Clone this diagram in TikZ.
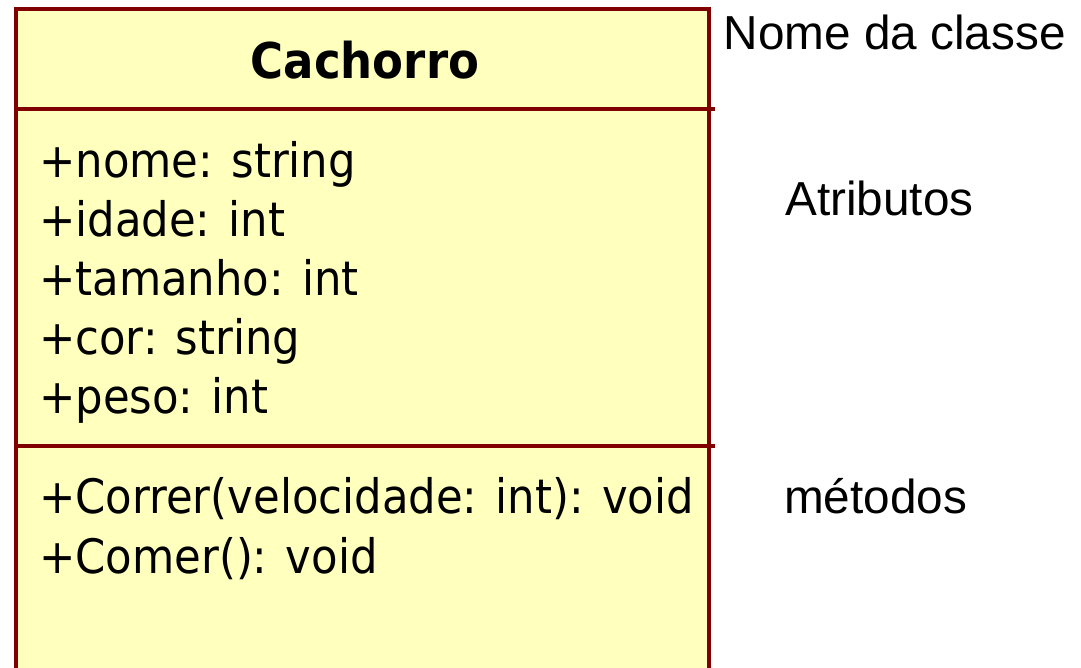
\documentclass[tikz,border=0pt]{standalone}
\usepackage{fontspec}
\setmainfont{Liberation Sans}
\newfontfamily\boxfont{DejaVu Sans}[FakeStretch=0.913]
\definecolor{boxfill}{RGB}{255,255,190}
\definecolor{boxline}{RGB}{128,0,0}
\tikzset{
  border/.style={draw=boxline, line width=4pt},
  member/.style={anchor=base west, inner sep=0pt, font=\boxfont\fontsize{47.5}{57}\selectfont},
  title/.style={anchor=base, inner sep=0pt, font=\boxfont\bfseries\fontsize{49.3}{59}\selectfont},
  side/.style={anchor=base west, inner sep=0pt, font=\fontsize{47.7}{57}\selectfont},
}
\begin{document}
\begin{tikzpicture}[x=1pt,y=-1pt]
\useasboundingbox (0,0) rectangle (1081,667);
\begin{scope}
\clip (0,0) rectangle (1081,667);
\fill[boxfill] (15.5,9) rectangle (708.5,700);
\draw[border] (15.5,700) -- (15.5,9) -- (708.5,9) -- (708.5,700);
\end{scope}
\coordinate (d1l) at (14,109);
\coordinate (d1r) at (715,109);
\coordinate (d2l) at (14,446);
\coordinate (d2r) at (715,446);
\draw[border] (d1l) -- (d1r);
\draw[border] (d2l) -- (d2r);
\node[title] (name) at (365,78) {Cachorro};
\node[member] (a1) at (39,177) {+nome: string};
\node[member] (a2) at (39,236.5) {+idade: int};
\node[member] (a3) at (39,295) {+tamanho: int};
\node[member] (a4) at (39,354) {+cor: string};
\node[member] (a5) at (39,413) {+peso: int};
\node[member] (m1) at (39,513) {+Correr(velocidade: int): void};
\node[member] (m2) at (39,573) {+Comer(): void};
\node[side] (l1) at (723.5,49) {Nome da classe};
\node[side] (l2) at (785,215) {Atributos};
\node[side] (l3) at (784,513) {métodos};
\end{tikzpicture}
\end{document}
